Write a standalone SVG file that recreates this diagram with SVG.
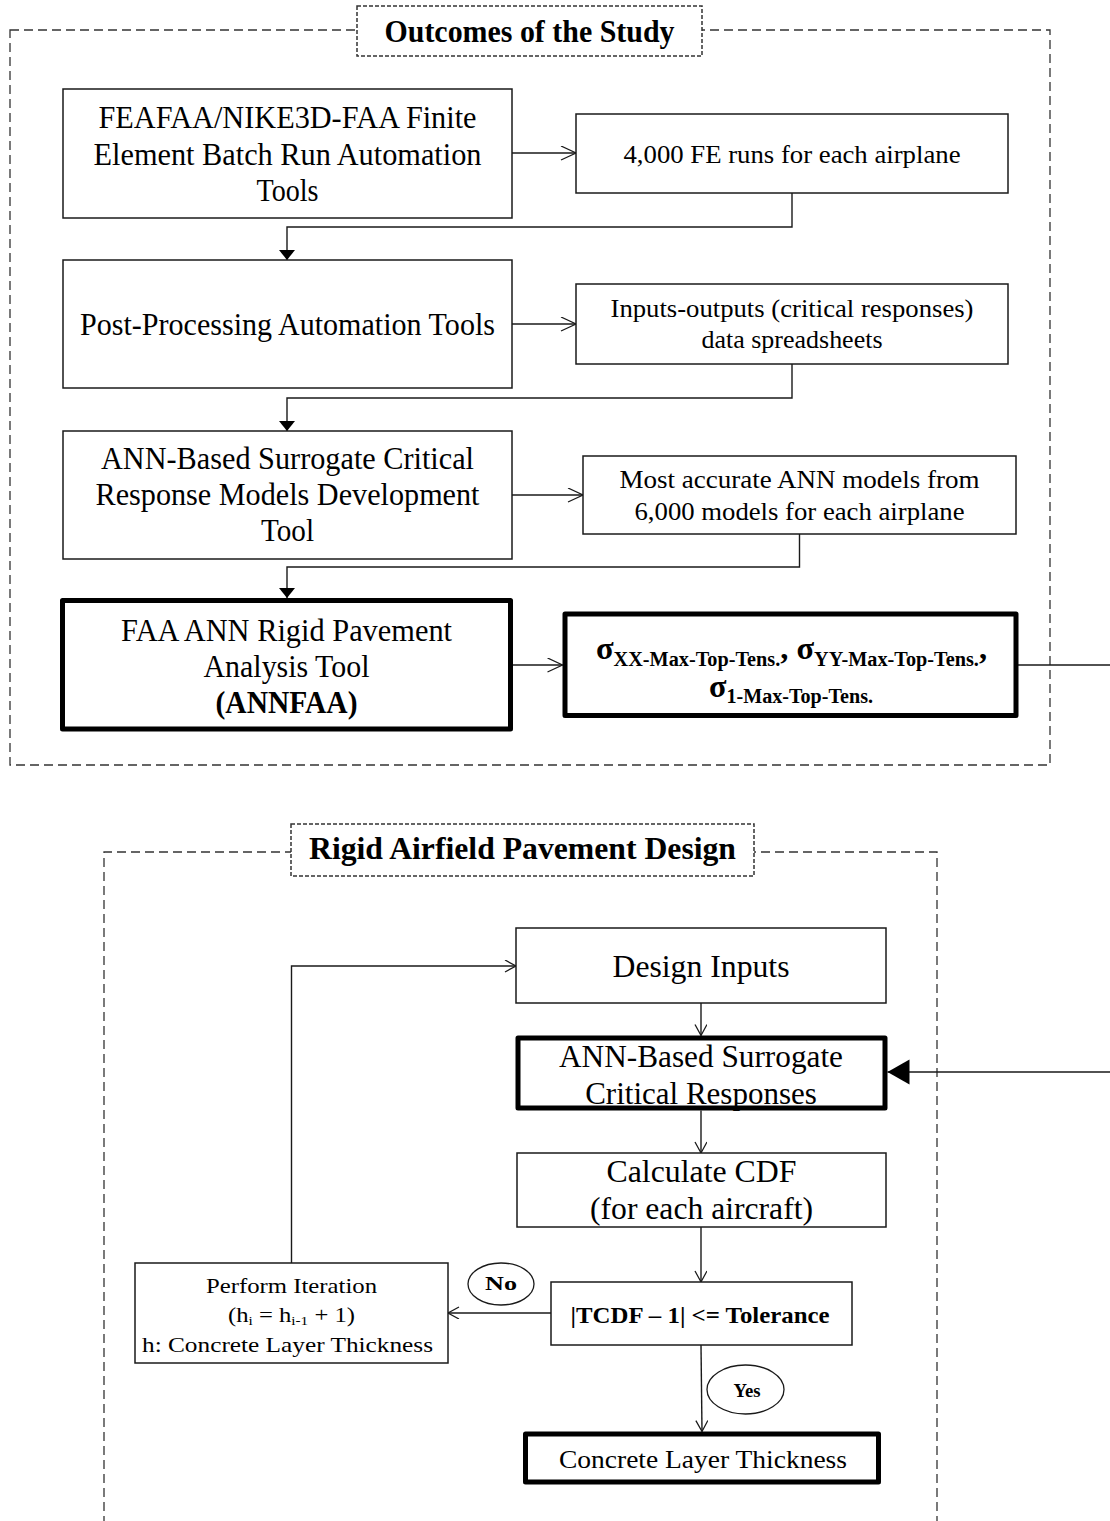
<svg xmlns="http://www.w3.org/2000/svg" width="1110" height="1521" viewBox="0 0 1110 1521">
  <style>
    .bg { fill: #ffffff; }
    .box { fill: #ffffff; stroke: #1a1a1a; stroke-width: 1.5; }
    .thick { fill: #ffffff; stroke: #000000; stroke-width: 5; stroke-linejoin: round; }
    .frame { fill: none; stroke: #333333; stroke-width: 1.3; stroke-dasharray: 9 5; }
    .tag { fill: #ffffff; stroke: #333333; stroke-width: 1.5; stroke-dasharray: 4 2; }
    .oval { fill: #ffffff; stroke: #1a1a1a; stroke-width: 1.3; }
    .wire { fill: none; stroke: #1a1a1a; stroke-width: 1.4; }
    text { font-family: "Liberation Serif", "Times New Roman", serif; fill: #000000; text-anchor: middle; }
    .t32 { font-size: 32px; }
    .t26 { font-size: 26px; }
    .t31 { font-size: 31px; }
    .b { font-weight: bold; }
  </style>
  <defs>
    <marker id="openR" markerUnits="userSpaceOnUse" markerWidth="18" markerHeight="16" refX="16" refY="7" orient="auto">
      <path d="M1,0 L16,7 L1,14" fill="none" stroke="#1a1a1a" stroke-width="1.3"/>
    </marker>
    <marker id="openS" markerUnits="userSpaceOnUse" markerWidth="14" markerHeight="14" refX="12" refY="6" orient="auto">
      <path d="M1,0 L12,6 L1,12" fill="none" stroke="#1a1a1a" stroke-width="1.3"/>
    </marker>
    <marker id="fillD" markerUnits="userSpaceOnUse" markerWidth="12" markerHeight="18" refX="10" refY="8" orient="auto">
      <path d="M0,0 L10,8 L0,16 Z" fill="#000000"/>
    </marker>
    <marker id="fillBig" markerUnits="userSpaceOnUse" markerWidth="24" markerHeight="26" refX="22" refY="12.5" orient="auto">
      <path d="M0,0 L22,12.5 L0,25 Z" fill="#000000"/>
    </marker>
  </defs>

  <rect class="bg" x="0" y="0" width="1110" height="1521"/>

  <!-- outer frames -->
  <g id="frame-outcomes">
    <rect class="frame" x="10" y="30" width="1040" height="735"/>
    <rect class="tag" x="357" y="6" width="345" height="50"/>
    <text class="b" x="529.5" y="42" font-size="31" textLength="290" lengthAdjust="spacingAndGlyphs">Outcomes of the Study</text>
  </g>
  <g id="frame-design">
    <path class="frame" d="M104,1525 V852 H937 V1525"/>
    <rect class="tag" x="291" y="824" width="463" height="52"/>
    <text class="b" x="522.5" y="859" font-size="31" textLength="427" lengthAdjust="spacingAndGlyphs">Rigid Airfield Pavement Design</text>
  </g>

  <!-- connectors -->
  <g id="connectors">
    <line class="wire" x1="512" y1="153" x2="576" y2="153" marker-end="url(#openR)"/>
    <path class="wire" d="M792,193 V227 H287 V260" marker-end="url(#fillD)"/>
    <line class="wire" x1="512" y1="324" x2="576" y2="324" marker-end="url(#openR)"/>
    <path class="wire" d="M792,364 V398 H287 V431" marker-end="url(#fillD)"/>
    <line class="wire" x1="512" y1="495" x2="583" y2="495" marker-end="url(#openR)"/>
    <path class="wire" d="M799.5,534 V567 H287 V598" marker-end="url(#fillD)"/>
    <line class="wire" x1="513" y1="665" x2="562.5" y2="665" marker-end="url(#openR)"/>
    <path class="wire" d="M1018,665 H1114 V1072 H887.5" marker-end="url(#fillBig)"/>
    <line class="wire" x1="701" y1="1003" x2="701" y2="1035.5" marker-end="url(#openS)"/>
    <line class="wire" x1="701" y1="1110.5" x2="701" y2="1153" marker-end="url(#openS)"/>
    <line class="wire" x1="701" y1="1227" x2="701" y2="1282" marker-end="url(#openS)"/>
    <line class="wire" x1="701" y1="1345" x2="702" y2="1431.5" marker-end="url(#openS)"/>
    <line class="wire" x1="551" y1="1313" x2="448" y2="1313" marker-end="url(#openS)"/>
    <path class="wire" d="M291.5,1263 V966 H516" marker-end="url(#openS)"/>
  </g>

  <!-- analysis tool chain -->
  <g id="batch-run-tools">
    <rect class="box" x="63" y="89" width="449" height="129"/>
    <text class="t32" x="287.5" y="128" textLength="378" lengthAdjust="spacingAndGlyphs">FEAFAA/NIKE3D-FAA Finite</text>
    <text class="t32" x="287.5" y="165" textLength="388" lengthAdjust="spacingAndGlyphs">Element Batch Run Automation</text>
    <text class="t32" x="287.5" y="201" textLength="62" lengthAdjust="spacingAndGlyphs">Tools</text>
  </g>
  <g id="fe-runs">
    <rect class="box" x="576" y="114" width="432" height="79"/>
    <text class="t26" x="792" y="163" textLength="337" lengthAdjust="spacingAndGlyphs">4,000 FE runs for each airplane</text>
  </g>
  <g id="post-processing">
    <rect class="box" x="63" y="260" width="449" height="128"/>
    <text class="t32" x="287.5" y="335" textLength="415" lengthAdjust="spacingAndGlyphs">Post-Processing Automation Tools</text>
  </g>
  <g id="spreadsheets">
    <rect class="box" x="576" y="284" width="432" height="80"/>
    <text class="t26" x="792" y="317" textLength="363" lengthAdjust="spacingAndGlyphs">Inputs-outputs (critical responses)</text>
    <text class="t26" x="792" y="348" textLength="181" lengthAdjust="spacingAndGlyphs">data spreadsheets</text>
  </g>
  <g id="ann-development">
    <rect class="box" x="63" y="431" width="449" height="128"/>
    <text class="t32" x="287.5" y="469" textLength="373" lengthAdjust="spacingAndGlyphs">ANN-Based Surrogate Critical</text>
    <text class="t32" x="287.5" y="505" textLength="384" lengthAdjust="spacingAndGlyphs">Response Models Development</text>
    <text class="t32" x="287.5" y="541" textLength="53" lengthAdjust="spacingAndGlyphs">Tool</text>
  </g>
  <g id="ann-models">
    <rect class="box" x="583" y="456" width="433" height="78"/>
    <text class="t26" x="799.5" y="488" textLength="360" lengthAdjust="spacingAndGlyphs">Most accurate ANN models from</text>
    <text class="t26" x="799.5" y="520" textLength="330" lengthAdjust="spacingAndGlyphs">6,000 models for each airplane</text>
  </g>
  <g id="annfaa">
    <rect class="thick" x="62.5" y="600.5" width="448" height="128.5"/>
    <text class="t32" x="286.5" y="641" textLength="331" lengthAdjust="spacingAndGlyphs">FAA ANN Rigid Pavement</text>
    <text class="t32" x="286.5" y="677" textLength="166" lengthAdjust="spacingAndGlyphs">Analysis Tool</text>
    <text class="t32 b" x="286.5" y="713" textLength="142" lengthAdjust="spacingAndGlyphs">(ANNFAA)</text>
  </g>
  <g id="critical-stresses">
    <rect class="thick" x="565" y="614" width="451" height="101.5"/>
    <text class="b" x="791.5" y="659" font-size="32" textLength="391" lengthAdjust="spacingAndGlyphs">σ<tspan font-size="20" dy="7">XX-Max-Top-Tens.</tspan><tspan dy="-7">,  σ</tspan><tspan font-size="20" dy="7">YY-Max-Top-Tens.</tspan><tspan dy="-7">,</tspan></text>
    <text class="b" x="791" y="697" font-size="32" textLength="164" lengthAdjust="spacingAndGlyphs">σ<tspan font-size="20" dy="6">1-Max-Top-Tens.</tspan></text>
  </g>

  <!-- design loop -->
  <g id="design-inputs">
    <rect class="box" x="516" y="928" width="370" height="75"/>
    <text class="t31" x="701" y="977" textLength="177" lengthAdjust="spacingAndGlyphs">Design Inputs</text>
  </g>
  <g id="surrogate-responses">
    <rect class="thick" x="518" y="1038" width="367" height="70"/>
    <text class="t31" x="701" y="1067" textLength="284" lengthAdjust="spacingAndGlyphs">ANN-Based Surrogate</text>
    <text class="t31" x="701" y="1104">Critical Responses</text>
  </g>
  <g id="calculate-cdf">
    <rect class="box" x="517" y="1153" width="369" height="74"/>
    <text class="t31" x="701.5" y="1182" textLength="190" lengthAdjust="spacingAndGlyphs">Calculate CDF</text>
    <text class="t31" x="701.5" y="1219" textLength="223" lengthAdjust="spacingAndGlyphs">(for each aircraft)</text>
  </g>
  <g id="tolerance-check">
    <rect class="box" x="551" y="1282" width="301" height="63"/>
    <text class="b" x="700" y="1323" font-size="24" textLength="259" lengthAdjust="spacingAndGlyphs">|TCDF – 1| &lt;= Tolerance</text>
  </g>
  <g id="perform-iteration">
    <rect class="box" x="135" y="1263" width="313" height="100"/>
    <text x="291.5" y="1293" font-size="21" textLength="171" lengthAdjust="spacingAndGlyphs">Perform Iteration</text>
    <text x="291.5" y="1322" font-size="21" textLength="127" lengthAdjust="spacingAndGlyphs">(h<tspan font-size="13" dy="3">i</tspan><tspan dy="-3"> = h</tspan><tspan font-size="13" dy="3">i-1</tspan><tspan dy="-3"> + 1)</tspan></text>
    <text x="287.5" y="1352" font-size="21" textLength="291" lengthAdjust="spacingAndGlyphs">h: Concrete Layer Thickness</text>
  </g>
  <g id="label-no">
    <ellipse class="oval" cx="501" cy="1284" rx="33" ry="21"/>
    <text class="b" x="501" y="1290" font-size="19" textLength="32" lengthAdjust="spacingAndGlyphs">No</text>
  </g>
  <g id="label-yes">
    <ellipse class="oval" cx="745.5" cy="1389.5" rx="38.5" ry="24.5"/>
    <text class="b" x="747" y="1397" font-size="19" textLength="27" lengthAdjust="spacingAndGlyphs">Yes</text>
  </g>
  <g id="concrete-thickness">
    <rect class="thick" x="525.5" y="1434" width="353" height="48"/>
    <text x="703" y="1468" font-size="26" textLength="288" lengthAdjust="spacingAndGlyphs">Concrete Layer Thickness</text>
  </g>
</svg>
